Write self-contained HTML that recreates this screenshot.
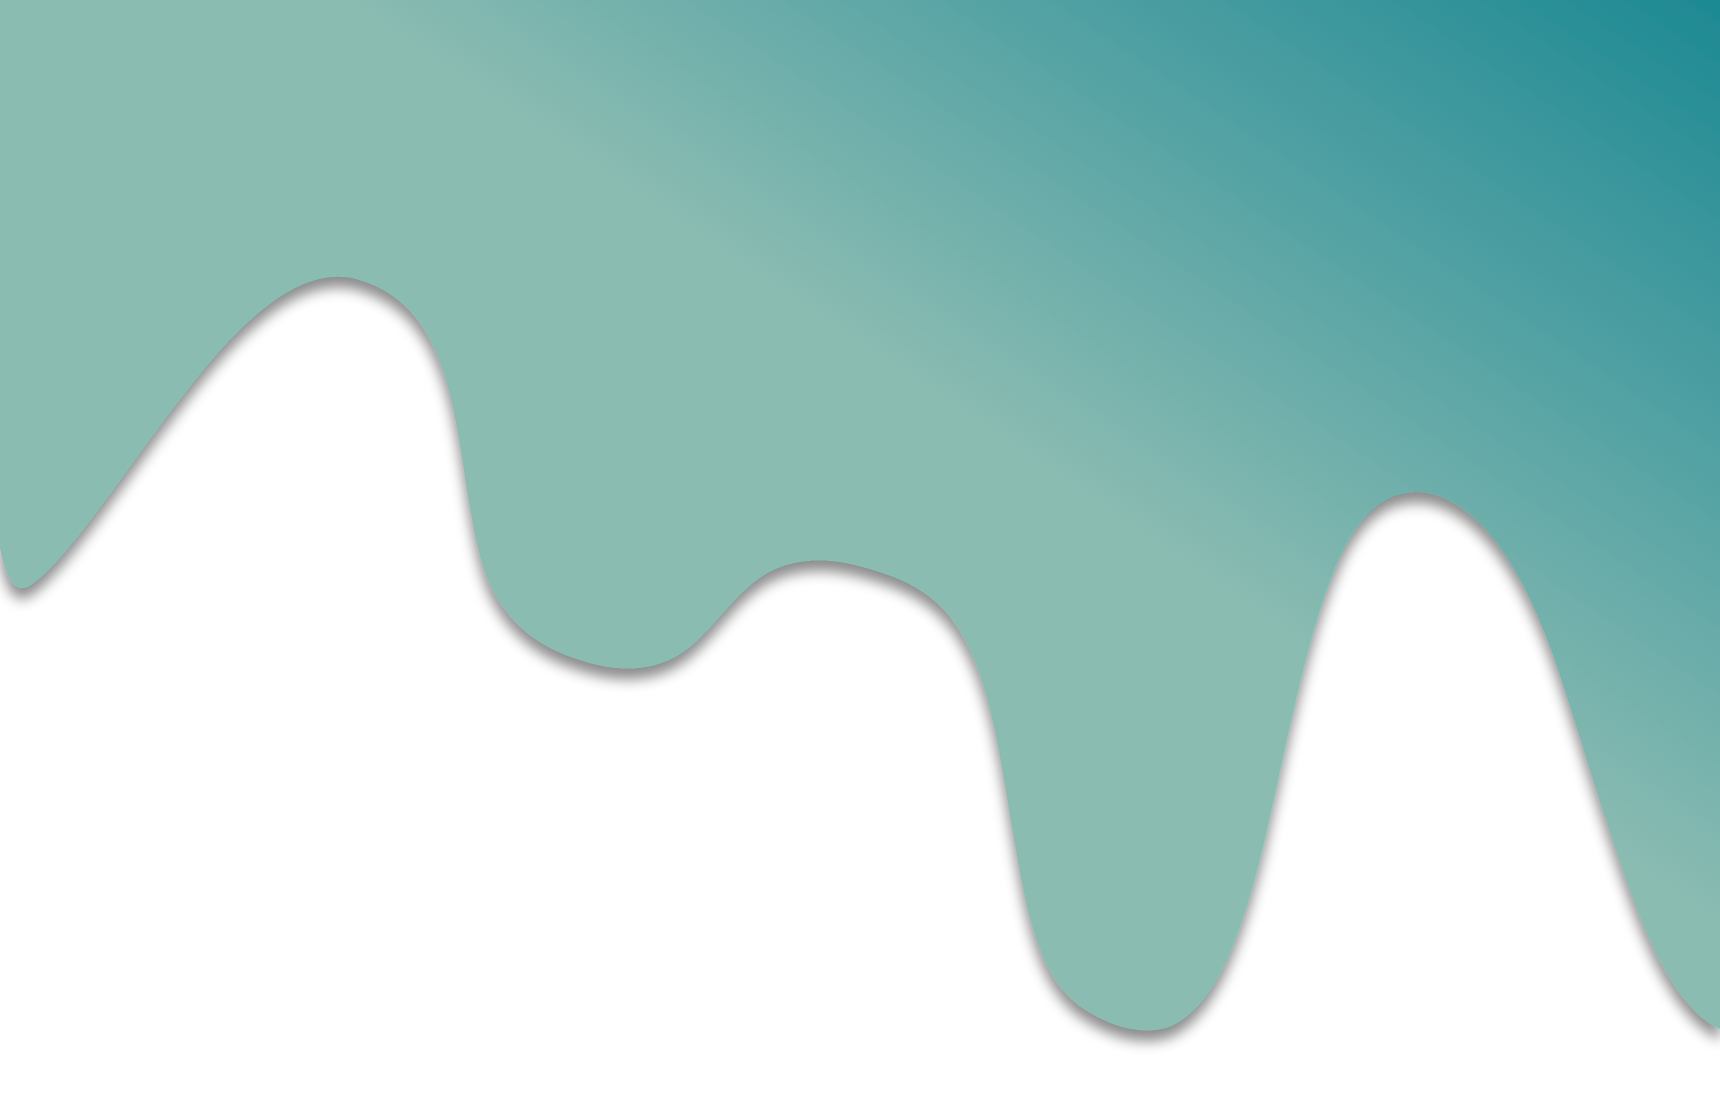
<!DOCTYPE html>
<html>
<head>
<meta charset="utf-8">
<style>
  html,body{margin:0;padding:0;background:#fff;}
  body{width:1720px;height:1097px;overflow:hidden;}
  svg{display:block;}
</style>
</head>
<body>
<svg width="1720" height="1097" viewBox="0 0 1568 1000" preserveAspectRatio="none" xmlns="http://www.w3.org/2000/svg">
  <defs>
    <linearGradient id="g" gradientUnits="userSpaceOnUse" x1="1568" y1="0" x2="1176" y2="584">
      <stop offset="0" stop-color="#1d8993"/>
      <stop offset="0.55" stop-color="#58a4a5"/>
      <stop offset="1" stop-color="#8bbcb2"/>
    </linearGradient>
    <filter id="sh" x="-10%" y="-10%" width="120%" height="130%">
      <feDropShadow dx="0" dy="10" stdDeviation="6" flood-color="#000" flood-opacity="0.45"/>
    </filter>
  </defs>
  <path filter="url(#sh)" fill="url(#g)"
    d="M0,0 L0,500
       C5,525 12,540 25,535
       C70,510 160,350 230,290
       C260,263 290,248 320,253
       C370,265 395,300 410,360
       C425,420 428,500 450,540
       C472,580 505,595 537,604
       C565,612 595,612 620,596
       C648,578 665,545 695,525
       C718,510 748,507 780,515
       C820,525 848,538 868,565
       C905,615 912,700 927,780
       C942,870 960,905 997,925
       C1022,939 1048,943 1068,935
       C1110,915 1132,850 1152,770
       C1175,670 1195,560 1225,500
       C1245,460 1270,445 1300,449
       C1350,458 1390,520 1420,610
       C1450,700 1480,810 1510,870
       C1530,910 1550,930 1568,938
       L1568,0 Z"/>
</svg>
</body>
</html>
